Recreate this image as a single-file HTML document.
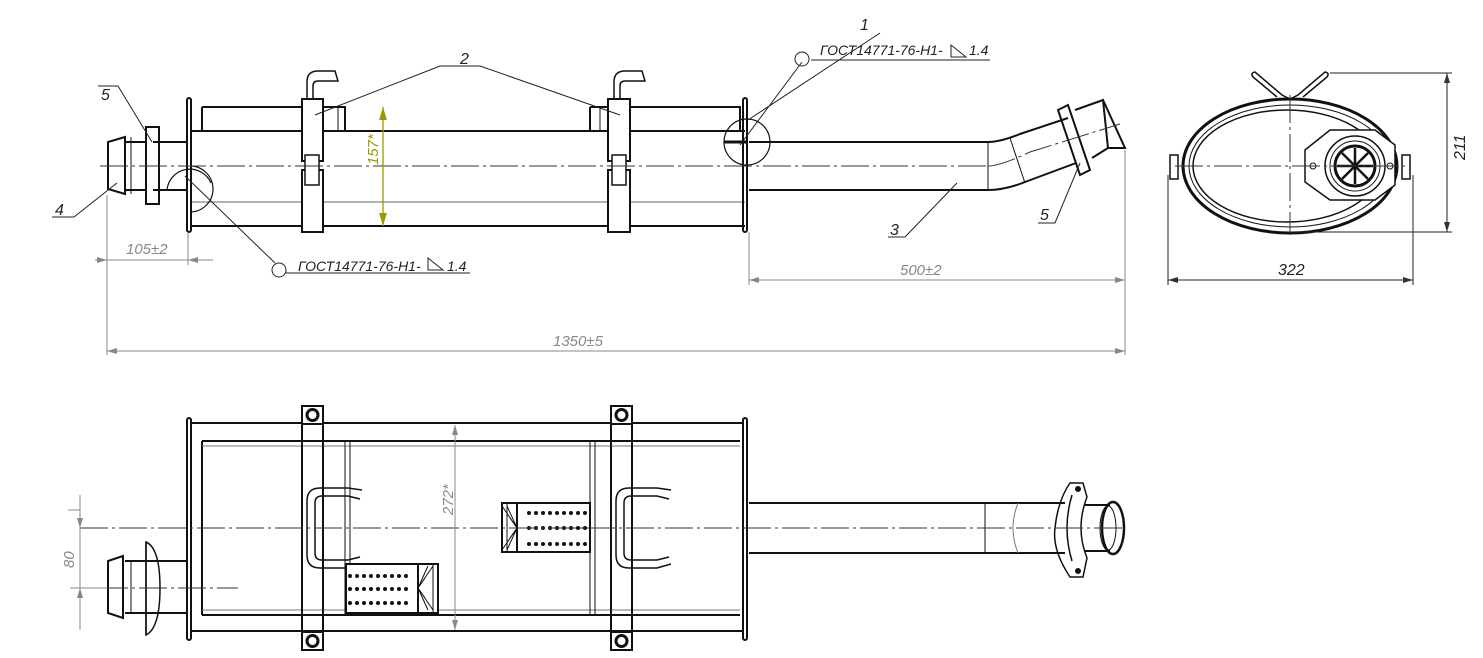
<!DOCTYPE html>
<html><head><meta charset="utf-8"><style>
html,body{margin:0;padding:0;background:#fff}
svg{display:block}
text{font-family:"Liberation Sans",sans-serif;font-style:italic}
</style></head><body>
<svg width="1483" height="658" viewBox="0 0 1483 658" xmlns="http://www.w3.org/2000/svg">
<defs>
<marker id="a" viewBox="0 0 10 6" refX="10" refY="3" markerWidth="10" markerHeight="6" orient="auto-start-reverse"><path d="M0,0 L10,3 L0,6" fill="#888"/></marker>
<marker id="ab" viewBox="0 0 10 6" refX="10" refY="3" markerWidth="10" markerHeight="6" orient="auto-start-reverse"><path d="M0,0 L10,3 L0,6" fill="#333"/></marker>
<marker id="ag" viewBox="0 0 10 6" refX="10" refY="3" markerWidth="10" markerHeight="6" orient="auto-start-reverse"><path d="M0,0 L10,3 L0,6" fill="#999900"/></marker>
</defs>
<g fill="none" stroke="#111" stroke-width="2">
<!-- TOP VIEW -->
<line x1="190" y1="131" x2="745" y2="131"/>
<line x1="190" y1="226" x2="745" y2="226"/>
<line x1="190" y1="202" x2="745" y2="202" stroke-width="1" stroke="#666"/>
<rect x="187" y="98" width="4" height="134" rx="2"/>
<rect x="743" y="98" width="4" height="134" rx="2"/>
<path d="M202 107 H345 V131 M202 107 V131"/>
<line x1="338" y1="107" x2="338" y2="131" stroke-width="1"/>
<path d="M590 107 H740 V131 M590 107 V131"/>
<line x1="600" y1="107" x2="600" y2="131" stroke-width="1"/>
<!-- clamps -->
<rect x="302" y="99" width="21" height="62" fill="#fff"/>
<rect x="302" y="170" width="21" height="62" fill="#fff"/>
<rect x="305" y="155" width="14" height="30" stroke-width="1.5" fill="#fff"/>
<path d="M307 99 V82 Q307 71 318 71 H335 L338 81 H318 Q313 81 313 86 V99" stroke-width="1.5"/>
<rect x="608" y="99" width="22" height="62" fill="#fff"/>
<rect x="608" y="170" width="22" height="62" fill="#fff"/>
<rect x="612" y="155" width="14" height="30" stroke-width="1.5" fill="#fff"/>
<path d="M614 99 V82 Q614 71 625 71 H642 L645 81 H625 Q620 81 620 86 V99" stroke-width="1.5"/>
<!-- left inlet -->
<path d="M153 142 H188 M153 190 H188"/>
<path d="M125 137 L108 142 V189 L125 194 Z"/>
<line x1="131" y1="137" x2="131" y2="194" stroke-width="1"/>
<rect x="146" y="127" width="13" height="77"/>
<path d="M125 142 H146 M125 190 H146"/>
<path d="M167 190 A23 23 0 0 1 211 183" stroke-width="1.2"/>
<path d="M190 166 A23 23 0 0 1 190 212" stroke-width="1.2"/>
<!-- right pipe -->
<path d="M749 142 H988 Q1000 142 1020 134 L1068 118 M749 190 H988 Q1005 190 1025 182 L1076 163"/>
<line x1="988" y1="142" x2="988" y2="190" stroke-width="1"/>
<line x1="1010" y1="138" x2="1025" y2="183" stroke-width="1"/>
<path d="M1058 110 L1068 105 L1090 170 L1080 175 Z"/>
<path d="M1075 110 L1103 100 L1108 148 L1092 158" />
<path d="M1103 100 L1125 148 L1108 148"/>
<path d="M724 142 A22 22 0 0 1 770 142" stroke-width="1.2"/>
<path d="M724 142 A22 22 0 0 0 770 142" stroke-width="1.2"/>
<line x1="724" y1="142" x2="748" y2="142" stroke-width="3"/>
<!-- side view -->
<ellipse cx="1290" cy="166" rx="107" ry="67" stroke-width="3"/>
<ellipse cx="1290" cy="166" rx="101" ry="61" stroke-width="1"/>
<ellipse cx="1287" cy="166" rx="94" ry="56" stroke-width="1.5"/>
<path d="M1305 150 L1330 130 H1375 L1395 145 V185 L1375 200 H1330 L1305 182 Z" stroke-width="1.5" fill="#fff"/>
<circle cx="1355" cy="166" r="30" stroke-width="1.5"/>
<circle cx="1355" cy="166" r="25" stroke-width="1"/>
<circle cx="1355" cy="166" r="20" stroke-width="3"/>
<g stroke-width="2.5"><line x1="1337" y1="166" x2="1373" y2="166"/><line x1="1355" y1="148" x2="1355" y2="184"/><line x1="1342" y1="153" x2="1368" y2="179"/><line x1="1368" y1="153" x2="1342" y2="179"/></g>
<circle cx="1313" cy="166" r="3" stroke-width="1"/><circle cx="1390" cy="166" r="3" stroke-width="1"/>
<path d="M1277 97 L1253 77 Q1250 73 1255 72 L1282 95 L1290 99 L1298 95 L1325 72 Q1330 73 1327 77 L1303 97" stroke-width="1.5"/>
<rect x="1170" y="155" width="8" height="24" stroke-width="1.5"/>
<rect x="1402" y="155" width="8" height="24" stroke-width="1.5"/>
<!-- BOTTOM VIEW -->
<line x1="190" y1="423" x2="743" y2="423"/>
<line x1="190" y1="631" x2="743" y2="631"/>
<path d="M202 441 H740 M202 615 H740 M202 441 V615"/>
<line x1="202" y1="446" x2="740" y2="446" stroke-width="1" stroke="#777"/>
<line x1="202" y1="610" x2="740" y2="610" stroke-width="1" stroke="#777"/>
<rect x="187" y="418" width="4" height="222" rx="2"/>
<rect x="743" y="418" width="4" height="222" rx="2"/>
<line x1="345" y1="441" x2="345" y2="615" stroke-width="1"/><line x1="350" y1="441" x2="350" y2="615" stroke-width="1"/>
<line x1="590" y1="441" x2="590" y2="615" stroke-width="1"/><line x1="595" y1="441" x2="595" y2="615" stroke-width="1"/>
<rect x="302" y="406" width="21" height="244" fill="none"/>
<rect x="611" y="406" width="21" height="244" fill="none"/>
<rect x="302" y="406" width="21" height="18" fill="#fff"/><circle cx="312.5" cy="415" r="5.5" stroke-width="3"/>
<rect x="302" y="632" width="21" height="18" fill="#fff"/><circle cx="312.5" cy="641" r="5.5" stroke-width="3"/>
<rect x="611" y="406" width="21" height="18" fill="#fff"/><circle cx="621.5" cy="415" r="5.5" stroke-width="3"/>
<rect x="611" y="632" width="21" height="18" fill="#fff"/><circle cx="621.5" cy="641" r="5.5" stroke-width="3"/>
<path d="M362 490 L348 488 H320 Q307 488 307 501 V555 Q307 568 320 568 H348 L362 564" stroke-width="1.5"/>
<path d="M360 499 L348 496 H322 Q315 496 315 503 V553 Q315 560 322 560 H348 L360 557" stroke-width="1.5"/>
<path d="M671 490 L657 488 H629 Q616 488 616 501 V555 Q616 568 629 568 H657 L671 564" stroke-width="1.5"/>
<path d="M669 499 L657 496 H631 Q624 496 624 503 V553 Q624 560 631 560 H657 L669 557" stroke-width="1.5"/>
<!-- perforated -->
<rect x="346" y="564" width="92" height="49" fill="#fff"/>
<line x1="418" y1="564" x2="418" y2="613" stroke-width="2"/><line x1="433" y1="564" x2="433" y2="613" stroke-width="1"/>
<rect x="502" y="503" width="88" height="49" fill="#fff"/>
<line x1="517" y1="503" x2="517" y2="552" stroke-width="2"/><line x1="507" y1="503" x2="507" y2="552" stroke-width="1"/>
<g stroke-width="1"><path d="M418 588 L433 566 M418 588 L433 610 M418 588 L428 566 M418 588 L428 610 M418 588 L425 578 M418 588 L425 598"/>
<path d="M517 528 L502 506 M517 528 L502 550 M517 528 L507 506 M517 528 L507 550 M517 528 L510 518 M517 528 L510 538"/></g>
<!-- left inlet -->
<path d="M125 561 H188 M125 613 H188"/>
<path d="M123 556 L108 561 V613 L123 618 Z"/>
<line x1="131" y1="561" x2="131" y2="613" stroke-width="1"/>
<path d="M146 542 Q160 548 160 588 Q160 628 146 635 Z" stroke-width="1.5"/>
<line x1="146" y1="542" x2="146" y2="635" stroke-width="1.5"/>
<!-- right pipe -->
<path d="M749 503 H1065 M749 553 H1065"/>
<line x1="985" y1="503" x2="985" y2="553" stroke-width="1"/>
<path d="M1018 503 Q1008 528 1018 553" stroke-width="1" stroke="#777"/>
<path d="M1070 483 L1083 483 L1087 497 Q1075 528 1087 558 L1083 577 L1070 577 Q1052 550 1055 528 Q1058 500 1070 483 Z" stroke-width="1.5"/>
<path d="M1072 495 Q1062 528 1072 561" stroke-width="1.5"/>
<circle cx="1078" cy="489" r="2" fill="#111"/><circle cx="1078" cy="571" r="2" fill="#111"/>
<path d="M1085 505 H1110 M1085 551 H1110" />
<ellipse cx="1113" cy="528" rx="11" ry="26" stroke-width="2.5"/>
<ellipse cx="1108" cy="528" rx="8" ry="22" stroke-width="1"/>
</g>
<!-- perforation dots -->
<g fill="#111">
<g id="r1"><circle cx="350" cy="576" r="2"/><circle cx="357" cy="576" r="2"/><circle cx="364" cy="576" r="2"/><circle cx="371" cy="576" r="2"/><circle cx="378" cy="576" r="2"/><circle cx="385" cy="576" r="2"/><circle cx="392" cy="576" r="2"/><circle cx="399" cy="576" r="2"/><circle cx="406" cy="576" r="2"/></g>
<use href="#r1" y="13"/><use href="#r1" y="27"/>
<use href="#r1" x="179" y="-63"/><use href="#r1" x="179" y="-48"/><use href="#r1" x="179" y="-32"/>
</g>
<!-- centerlines -->
<g stroke="#333" stroke-width="1" stroke-dasharray="28,4,3,4" fill="none">
<line x1="100" y1="166" x2="988" y2="166"/>
<path d="M988 166 Q1000 166 1030 152 L1120 124"/>
<line x1="1175" y1="166" x2="1410" y2="166"/>
<line x1="1290" y1="95" x2="1290" y2="235"/>
<line x1="80" y1="528" x2="1125" y2="528"/>
<line x1="100" y1="588" x2="238" y2="588"/>
</g>
<!-- dimensions -->
<g stroke="#888" stroke-width="1" fill="none">
<line x1="107" y1="195" x2="107" y2="355"/>
<line x1="188" y1="232" x2="188" y2="265"/>
<line x1="95" y1="260" x2="107" y2="260" marker-end="url(#a)"/>
<line x1="213" y1="260" x2="188" y2="260" marker-end="url(#a)"/>
<line x1="107" y1="260" x2="188" y2="260"/>
<line x1="749" y1="232" x2="749" y2="285"/>
<line x1="1125" y1="150" x2="1125" y2="355"/>
<line x1="749" y1="280" x2="1125" y2="280" marker-start="url(#a)" marker-end="url(#a)"/>
<line x1="107" y1="351" x2="1125" y2="351" marker-start="url(#a)" marker-end="url(#a)"/>
<line x1="455" y1="425" x2="455" y2="630" marker-start="url(#a)" marker-end="url(#a)"/>
<line x1="68" y1="510" x2="80" y2="510"/>
<line x1="80" y1="495" x2="80" y2="528" marker-end="url(#a)"/>
<line x1="80" y1="630" x2="80" y2="588" marker-end="url(#a)"/>
<line x1="80" y1="528" x2="80" y2="588"/>
<line x1="70" y1="588" x2="107" y2="588"/>
</g>
<line x1="383" y1="107" x2="383" y2="226" stroke="#999900" stroke-width="1.3" marker-start="url(#ag)" marker-end="url(#ag)"/>
<g stroke="#222" stroke-width="1" fill="none">
<line x1="1330" y1="73" x2="1452" y2="73"/>
<line x1="1290" y1="232" x2="1452" y2="232"/>
<line x1="1447" y1="73" x2="1447" y2="232" marker-start="url(#ab)" marker-end="url(#ab)"/>
<line x1="1168" y1="175" x2="1168" y2="285"/>
<line x1="1413" y1="175" x2="1413" y2="285"/>
<line x1="1168" y1="280" x2="1413" y2="280" marker-start="url(#ab)" marker-end="url(#ab)"/>
<!-- leaders -->
<path d="M98 86 H118 L152 142"/>
<path d="M52 217 H74 L117 183"/>
<path d="M440 66 H480 L620 115 M440 66 L315 115"/>
<path d="M880 33 L748 120 M811 60 H990 M802 62 L740 145"/>
<circle cx="802" cy="59" r="7"/>
<path d="M888 237 H905 L957 183"/>
<path d="M1038 223 H1055 L1080 163"/>
<path d="M185 176 L275 263"/>
<circle cx="279" cy="270" r="7"/>
<path d="M286 273 H470"/>
<path d="M428 270 V258 L443 270 Z M951 57 V45 L966 57 Z"/>
</g>
<g fill="#222" font-size="14">
<text x="101" y="100" font-size="16">5</text>
<text x="55" y="215" font-size="16">4</text>
<text x="460" y="64" font-size="16">2</text>
<text x="860" y="30" font-size="16">1</text>
<text x="820" y="55">ГОСТ14771-76-Н1-</text><text x="969" y="55">1.4</text>
<text x="298" y="271">ГОСТ14771-76-Н1-</text><text x="447" y="271">1.4</text>
<text x="890" y="235" font-size="16">3</text>
<text x="1040" y="220" font-size="16">5</text>
<text x="1278" y="275" font-size="16">322</text>
<text transform="translate(1465,160) rotate(-90)" font-size="16">211</text>
</g>
<g fill="#888" font-size="15">
<text x="126" y="254">105±2</text>
<text x="900" y="275">500±2</text>
<text x="553" y="346">1350±5</text>
<text transform="translate(453,515) rotate(-90)">272*</text>
<text transform="translate(74,568) rotate(-90)">80</text>
</g>
<text transform="translate(378,165) rotate(-90)" fill="#999900" font-size="15">157*</text>
</svg>
</body></html>
